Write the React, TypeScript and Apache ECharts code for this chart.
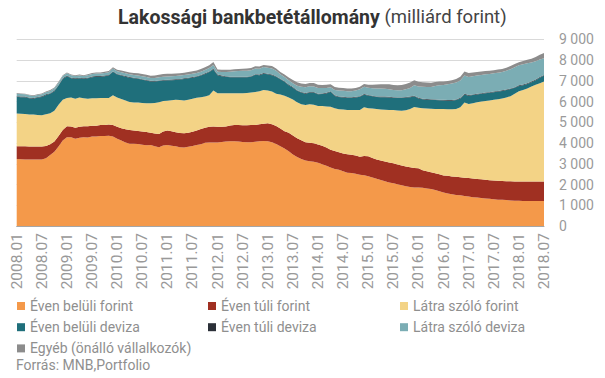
import React, { useEffect, useRef } from "react";
import * as echarts from "echarts";

// Monthly categories 2008.01 – 2018.07
const months: string[] = [];
for (let y = 2008; y <= 2018; y++) {
  for (let m = 1; m <= 12; m++) {
    if (y === 2018 && m > 7) break;
    months.push(`${y}.${m < 10 ? "0" + m : m}`);
  }
}

const seriesNames = [
  "Éven belüli forint",
  "Éven túli forint",
  "Látra szóló forint",
  "Éven belüli deviza",
  "Éven túli deviza",
  "Látra szóló deviza",
  "Egyéb (önálló vállalkozók)",
];

const colors = ["#F4994A", "#A03022", "#F3D386", "#1F6F7B", "#2B3038", "#7BADB4", "#8C8C8C"];

const evenBeluliForint = [
  3230, 3220, 3210, 3200, 3200, 3200, 3200,
  3260, 3420, 3580, 3830, 4120, 4280,
  4280, 4200, 4260, 4280, 4270, 4310, 4310, 4340,
  4340, 4350, 4310, 4210, 4120, 4020, 3970, 3970, 3950, 3920, 3890,
  3910, 3850, 3800, 3880, 3900, 3870, 3840, 3800, 3780, 3820, 3860,
  3900, 3940, 4010, 4020, 4030, 4030, 4050, 4070, 4080, 4080, 4070,
  4050, 4040, 4040, 4060, 4080, 4100, 4080, 4040, 3950, 3850, 3730,
  3600, 3450, 3330, 3230, 3160, 3120, 3100, 3050, 2980, 2900, 2820,
  2750, 2710, 2640, 2570, 2550, 2520, 2470, 2450, 2400, 2340, 2280,
  2220, 2160, 2100, 2060, 2010, 1970, 1920, 1880, 1860, 1860,
  1840, 1810, 1780, 1740, 1680, 1610, 1570, 1530, 1500, 1480,
  1450, 1420, 1390, 1370, 1350, 1330, 1310, 1290, 1270, 1260,
  1250, 1230, 1220, 1220, 1210, 1210, 1210, 1210, 1210, 1210,
];

const evenTuliForint = [
  620, 620, 630, 630, 630, 630, 630,
  600, 520, 490, 510, 510, 530,
  520, 540, 530, 530, 540, 520, 520, 530,
  530, 540, 560, 580, 590, 640, 660, 630, 630, 630, 640,
  590, 610, 640, 680, 700, 700, 680, 680, 690, 670, 680,
  700, 730, 730, 770, 770, 760, 740, 730, 760, 790, 800,
  810, 820, 830, 810, 820, 830, 870, 860, 870, 850, 840,
  900, 910, 900, 900, 880, 890, 890, 880, 890, 880, 860,
  870, 850, 860, 890, 880, 880, 870, 920, 960, 940, 930,
  940, 950, 960, 960, 960, 950, 950, 950, 940, 920,
  850, 830, 810, 800, 810, 830, 850, 860, 870, 870,
  880, 890, 900, 900, 900, 900, 900, 900, 910, 910,
  910, 930, 930, 930, 940, 940, 940, 940, 940, 940,
];

const latraSzoloForint = [
  1570, 1570, 1560, 1550, 1540, 1520, 1510,
  1530, 1490, 1480, 1500, 1450, 1360,
  1390, 1390, 1400, 1350, 1320, 1330, 1330, 1300,
  1300, 1280, 1430, 1400, 1410, 1390, 1350, 1350, 1370, 1380, 1390,
  1420, 1470, 1520, 1460, 1440, 1490, 1560, 1590, 1580, 1590, 1600,
  1580, 1540, 1500, 1510, 1730, 1610, 1610, 1600, 1560, 1530, 1530,
  1540, 1550, 1560, 1590, 1600, 1630, 1580, 1580, 1560, 1640, 1710,
  1700, 1740, 1730, 1740, 1790, 1860, 1860, 1860, 1910, 1980, 2070,
  2060, 2070, 2110, 2130, 2160, 2190, 2250, 2350, 2320, 2380, 2430,
  2460, 2490, 2530, 2570, 2600, 2640, 2710, 2810, 2940, 2920,
  2990, 3030, 3060, 3100, 3150, 3200, 3210, 3240, 3270, 3370,
  3620, 3570, 3630, 3690, 3750, 3800, 3840, 3890, 3930, 3980,
  4040, 4100, 4230, 4350, 4410, 4480, 4570, 4660, 4730, 4810,
];

const evenBeluliDeviza = [
  810, 800, 810, 780, 770, 840, 880,
  930, 940, 950, 930, 1010, 1050,
  930, 960, 930, 930, 990, 1010, 1040, 1030,
  1050, 1080, 1130, 1110, 1130, 1150, 1170, 1170, 1150, 1120, 1090,
  1050, 1030, 1030, 990, 980, 970, 960, 990, 1040, 1040, 1010,
  1010, 1040, 1090, 1120, 1020, 870, 820, 790, 770, 770, 770,
  770, 760, 760, 830, 770, 780, 780, 790, 810, 730, 670,
  590, 570, 560, 560, 550, 560, 580, 560, 580, 630, 720,
  590, 590, 590, 590, 590, 610, 640, 610, 610, 590, 580,
  590, 610, 610, 590, 600, 610, 610, 570, 510, 450,
  430, 420, 430, 430, 420, 410, 410, 410, 430, 430,
  390, 400, 390, 380, 370, 370, 370, 370, 370, 360,
  350, 340, 280, 250, 230, 220, 210, 220, 270, 290,
];

const evenTuliDeviza = [
  30, 30, 28, 28, 30, 30, 32,
  32, 30, 30, 30, 32, 32,
  32, 30, 30, 30, 30, 32, 32, 30,
  30, 30, 32, 32, 30, 30, 30, 28, 28, 30, 30,
  30, 30, 28, 28, 28, 30, 30, 30, 28, 28, 28,
  30, 30, 30, 32, 30, 30, 30, 28, 28, 28, 28,
  28, 28, 30, 30, 30, 30, 28, 28, 28, 28, 28,
  26, 26, 26, 28, 28, 28, 28, 28, 28, 28, 30,
  28, 28, 28, 28, 28, 28, 28, 30, 30, 28, 28,
  28, 28, 28, 28, 28, 28, 28, 28, 30, 30,
  30, 30, 30, 30, 30, 30, 30, 30, 30, 30,
  32, 32, 32, 32, 32, 32, 32, 32, 32, 32,
  32, 32, 34, 34, 34, 34, 34, 34, 34, 34,
];

const latraSzoloDeviza = [
  120, 120, 110, 110, 100, 100, 100, 100, 110, 110, 110, 110, 110,
  110, 110, 110, 110, 120, 120, 120, 120, 130, 130, 130, 130,
  130, 130, 130, 130, 130, 140, 140, 130, 140, 150, 160, 160,
  160, 160, 160, 160, 160, 160, 160, 160, 160, 170, 180, 140,
  170, 210, 240, 260, 270, 280, 280, 290, 270, 280, 290, 290,
  290, 260, 220, 210, 210, 190, 220, 250, 280, 280, 270, 270,
  260, 240, 190, 260, 280, 290, 290, 290, 300, 330, 350, 340,
  360, 380, 390, 380, 370, 350, 340, 350, 370, 420, 500, 550,
  570, 580, 590, 650, 700, 720, 760, 800, 820, 830, 880, 870,
  880, 880, 880, 880, 880, 880, 880, 880, 900, 930, 960, 960,
  970, 960, 920, 880, 840, 800,
];

const egyeb = [
  30, 30, 30, 30, 30, 30, 30, 30, 40, 40, 40, 40, 40,
  40, 40, 40, 40, 40, 50, 50, 50, 50, 60, 60, 70,
  80, 90, 90, 100, 100, 110, 110, 110, 120, 120, 130, 130,
  120, 120, 110, 110, 110, 120, 120, 130, 130, 130, 140, 110,
  110, 110, 100, 100, 100, 100, 110, 110, 110, 110, 100, 110,
  120, 120, 110, 110, 130, 150, 160, 160, 160, 160, 160, 160,
  150, 150, 140, 140, 140, 130, 130, 130, 130, 130, 140, 150,
  170, 190, 210, 220, 230, 240, 250, 250, 260, 260, 240, 220,
  220, 220, 200, 190, 170, 160, 160, 160, 170, 180, 190, 190,
  180, 170, 160, 160, 150, 150, 150, 150, 150, 150, 150, 150,
  160, 170, 180, 200, 230, 260,
];

const seriesData = [
  evenBeluliForint,
  evenTuliForint,
  latraSzoloForint,
  evenBeluliDeviza,
  evenTuliDeviza,
  latraSzoloDeviza,
  egyeb,
];

const yTicks = { min: 0, max: 9000, interval: 1000 };

const FONT = "Roboto, 'Noto Sans', sans-serif";
const GRAY_TEXT = "#8f8f8f";

export default function App() {
  const ref = useRef<HTMLDivElement>(null);

  useEffect(() => {
    if (!ref.current) return;
    const chart = echarts.init(ref.current, undefined, { renderer: "svg" });

    const legendBase = {
      orient: "vertical" as const,
      top: 298,
      padding: 0,
      itemWidth: 8,
      itemHeight: 8,
      itemGap: 5.2,
      icon: "rect",
      textStyle: { fontFamily: FONT, fontSize: 14, color: GRAY_TEXT, lineHeight: 16 },
    };

    chart.setOption({
      animation: false,
      color: colors,
      textStyle: { fontFamily: FONT },
      title: {
        text: "{b|Lakossági bankbetétállomány}{n| (milliárd forint)}",
        left: 118,
        top: 7,
        padding: 0,
        textStyle: {
          rich: {
            b: { fontFamily: FONT, fontSize: 19.5, fontWeight: "bold", color: "#333333" },
            n: { fontFamily: FONT, fontSize: 18.5, fontWeight: "normal", color: "#444444" },
          },
        },
      },
      legend: [
        { ...legendBase, left: 17, data: [seriesNames[0], seriesNames[3], seriesNames[6]] },
        { ...legendBase, left: 208, data: [seriesNames[1], seriesNames[4]] },
        { ...legendBase, left: 400, data: [seriesNames[2], seriesNames[5]] },
      ],
      graphic: [
        {
          type: "text",
          left: 16,
          top: 358,
          style: { text: "Forrás: MNB,Portfolio", fontFamily: FONT, fontSize: 14, fill: GRAY_TEXT },
        },
      ],
      grid: { left: 16.7, right: 61, top: 39.3, bottom: 152, containLabel: false },
      xAxis: {
        type: "category",
        data: months,
        boundaryGap: false,
        axisLine: { show: true, lineStyle: { color: "#a6a6a6", width: 1 } },
        axisTick: { show: false },
        axisLabel: {
          interval: 5,
          rotate: 90,
          margin: 7,
          fontSize: 15.5,
          fontFamily: FONT,
          color: "#999999",
        },
        splitLine: { show: false },
      },
      yAxis: {
        type: "value",
        position: "right",
        min: yTicks.min,
        max: yTicks.max,
        interval: yTicks.interval,
        axisLine: { show: false },
        axisTick: { show: false },
        axisLabel: {
          margin: 15,
          fontSize: 14,
          fontFamily: FONT,
          color: "#9a9a9a",
          formatter: (v: number) => String(v).replace(/\B(?=(\d{3})+(?!\d))/g, " "),
        },
        splitLine: { show: true, lineStyle: { color: "#d9d9d9", width: 1 } },
      },
      series: seriesNames.map((name, i) => ({
        name,
        type: "line",
        stack: "total",
        data: seriesData[i],
        showSymbol: false,
        symbol: "none",
        lineStyle: { width: 0 },
        areaStyle: { color: colors[i], opacity: 1 },
        itemStyle: { color: colors[i] },
        emphasis: { disabled: true },
      })),
    });

    return () => chart.dispose();
  }, []);

  return <div ref={ref} style={{ width: 605, height: 378, position: "absolute", left: 0, top: 0 }} />;
}
